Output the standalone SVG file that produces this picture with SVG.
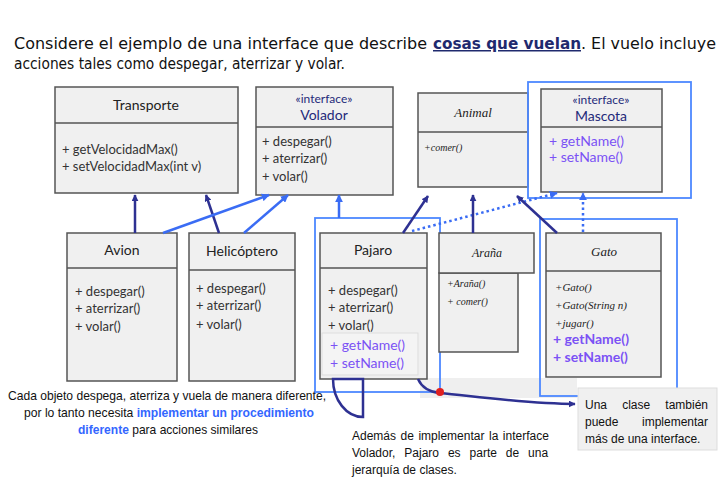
<svg xmlns="http://www.w3.org/2000/svg" width="725" height="480" viewBox="0 0 725 480">
<defs>
<marker id="an" viewBox="0 0 10 10" refX="9" refY="5" markerWidth="7" markerHeight="7" orient="auto-start-reverse" markerUnits="userSpaceOnUse"><path d="M0,0 L10,5 L0,10 z" fill="#2e3192"/></marker>
<marker id="ab" viewBox="0 0 10 10" refX="9" refY="5" markerWidth="8" markerHeight="8" orient="auto-start-reverse" markerUnits="userSpaceOnUse"><path d="M0,0 L10,5 L0,10 z" fill="#3a6cf4"/></marker>
</defs>
<style>
.box{fill:#f0f0f0;stroke:#555;stroke-width:1.5}
.hl{fill:none;stroke:#4d88ff;stroke-width:1.8}
.nm{font-family:Lato,"Open Sans",sans-serif;font-size:14px;fill:#222;text-anchor:middle}
.mt{font-family:Lato,"Open Sans",sans-serif;font-size:13px;fill:#333}
.it{font-family:"Liberation Serif",serif;font-style:italic;fill:#222}
.ifc{font-family:Lato,"Open Sans",sans-serif;fill:#1f2a7a;text-anchor:middle}
.pu{font-family:Lato,"Open Sans",sans-serif;font-size:14px;fill:#7b52f5}
.nv{fill:none;stroke:#2e3192;stroke-width:2.5}
.bl{fill:none;stroke:#3a6cf4;stroke-width:2.5}
.dt{fill:none;stroke:#3a6cf4;stroke-width:2.5;stroke-dasharray:2.5 3}
.tx{font-family:"Liberation Sans",Arial,sans-serif;font-size:13px;fill:#111}
.tj{font-family:"Liberation Sans",Arial,sans-serif;font-size:12px;fill:#111}
.hd{font-family:"DejaVu Sans Condensed","DejaVu Sans",sans-serif;font-size:15px;fill:#111}
</style>
<rect width="725" height="480" fill="#fff"/>

<g id="intro" class="hd">
<text x="14" y="49" textLength="413" lengthAdjust="spacingAndGlyphs">Considere el ejemplo de una interface que describe</text>
<text x="433" y="49" textLength="148" lengthAdjust="spacingAndGlyphs" font-weight="bold" fill="#1f2a6e" text-decoration="underline">cosas que vuelan</text>
<text x="581" y="49" textLength="135" lengthAdjust="spacingAndGlyphs">. El vuelo incluye</text>
<text x="14" y="69" textLength="331" lengthAdjust="spacingAndGlyphs">acciones tales como despegar, aterrizar y volar.</text>
</g>

<rect x="420" y="378" width="157" height="20" fill="#efefef"/>

<g id="Transporte">
<rect class="box" x="55" y="87" width="183" height="106"/>
<line x1="55" y1="123" x2="238" y2="123" stroke="#555" stroke-width="1.5"/>
<text class="nm" x="146" y="110">Transporte</text>
<text class="mt" x="62" y="154">+ getVelocidadMax()</text>
<text class="mt" x="62" y="171">+ setVelocidadMax(int v)</text>
</g>

<g id="Volador">
<rect class="box" x="256" y="87" width="137" height="108"/>
<line x1="256" y1="127" x2="393" y2="127" stroke="#555" stroke-width="1.5"/>
<text class="ifc" x="324" y="103" font-size="12">«interface»</text>
<text class="ifc" x="324" y="120" font-size="14">Volador</text>
<text class="mt" x="262" y="146">+ despegar()</text>
<text class="mt" x="262" y="163">+ aterrizar()</text>
<text class="mt" x="262" y="181">+ volar()</text>
</g>

<g id="Animal">
<rect class="box" x="418" y="93" width="110" height="94"/>
<line x1="418" y1="132" x2="528" y2="132" stroke="#555" stroke-width="1.5"/>
<text class="it" x="473" y="117" font-size="13" text-anchor="middle">Animal</text>
<text class="it" x="424" y="151" font-size="10">+comer()</text>
</g>

<g id="Mascota">
<rect class="box" x="541" y="89" width="121" height="103"/>
<line x1="541" y1="127" x2="662" y2="127" stroke="#555" stroke-width="1.5"/>
<text class="ifc" x="601" y="104" font-size="12">«interface»</text>
<text class="ifc" x="601" y="121" font-size="14">Mascota</text>
<text class="pu" x="549" y="146">+ getName()</text>
<text class="pu" x="549" y="162">+ setName()</text>
<rect class="hl" x="528" y="82" width="163" height="116"/>
</g>

<g id="Avion">
<rect class="box" x="67" y="233" width="110" height="148"/>
<line x1="67" y1="268" x2="177" y2="268" stroke="#555" stroke-width="1.5"/>
<text class="nm" x="122" y="255">Avion</text>
<text class="mt" x="75" y="296">+ despegar()</text>
<text class="mt" x="75" y="313">+ aterrizar()</text>
<text class="mt" x="75" y="331">+ volar()</text>
</g>

<g id="Helicoptero">
<rect class="box" x="189" y="233" width="106" height="148"/>
<line x1="189" y1="270" x2="295" y2="270" stroke="#555" stroke-width="1.5"/>
<text class="nm" x="242" y="256">Helicóptero</text>
<text class="mt" x="196" y="293">+ despegar()</text>
<text class="mt" x="196" y="310">+ aterrizar()</text>
<text class="mt" x="196" y="329">+ volar()</text>
</g>

<g id="Pajaro">
<rect class="box" x="320" y="233" width="107" height="146"/>
<line x1="320" y1="268" x2="427" y2="268" stroke="#555" stroke-width="1.5"/>
<text class="nm" x="373" y="255">Pajaro</text>
<text class="mt" x="328" y="295">+ despegar()</text>
<text class="mt" x="328" y="312">+ aterrizar()</text>
<text class="mt" x="328" y="330">+ volar()</text>
<rect x="322" y="333" width="96" height="42" fill="#f4f4f4" stroke="#ddd" stroke-width="1"/>
<text class="pu" x="330" y="350">+ getName()</text>
<text class="pu" x="330" y="368">+ setName()</text>
<rect class="hl" x="315" y="218" width="125" height="174"/>
</g>

<g id="Arana">
<rect class="box" x="439" y="273" width="79" height="79"/>
<rect class="box" x="439" y="233" width="95" height="40"/>
<text class="it" x="487" y="257" font-size="12" text-anchor="middle">Araña</text>
<text class="it" x="447" y="287" font-size="10">+Araña()</text>
<text class="it" x="447" y="305" font-size="10">+ comer()</text>
</g>

<g id="Gato">
<rect class="box" x="546" y="233" width="115" height="144"/>
<line x1="546" y1="271" x2="661" y2="271" stroke="#555" stroke-width="1.5"/>
<text class="it" x="604" y="256" font-size="13" text-anchor="middle">Gato</text>
<text class="it" x="555" y="291" font-size="11">+Gato()</text>
<text class="it" x="555" y="309" font-size="11">+Gato(String n)</text>
<text class="it" x="555" y="327" font-size="11">+jugar()</text>
<text class="pu" x="553" y="344" font-weight="bold">+ getName()</text>
<text class="pu" x="553" y="362" font-weight="bold">+ setName()</text>
<rect class="hl" x="540" y="219" width="137" height="177"/>
</g>

<g id="connectors">
<line class="nv" x1="135" y1="233" x2="135" y2="195" marker-end="url(#an)"/>
<line class="nv" x1="219" y1="233" x2="206" y2="195" marker-end="url(#an)"/>
<line class="bl" x1="163" y1="233" x2="269" y2="195" marker-end="url(#ab)"/>
<line class="bl" x1="244" y1="233" x2="288" y2="195" marker-end="url(#ab)"/>
<line class="bl" x1="339" y1="218" x2="339" y2="195" marker-end="url(#ab)"/>
<line class="nv" x1="403" y1="233" x2="428" y2="196" marker-end="url(#an)"/>
<line class="dt" x1="412" y1="231" x2="557" y2="193" marker-end="url(#ab)"/>
<line class="nv" x1="473" y1="233" x2="473" y2="195" marker-end="url(#an)"/>
<line class="nv" x1="557" y1="233" x2="517" y2="196" marker-end="url(#an)"/>
<line class="dt" x1="583" y1="232" x2="583" y2="193" marker-end="url(#ab)"/>
<path class="nv" d="M333,379 L363,379 L363,417 A30,38 0 0 1 333,379 Z"/>
<path class="nv" d="M418,379 C422,388 430,392 440,393 C480,397 530,404 575,404" marker-end="url(#an)"/>
<circle cx="440" cy="392" r="4" fill="#e02020"/>
</g>

<g id="notes">
<text class="tx" x="167" y="400" text-anchor="middle" textLength="318" lengthAdjust="spacingAndGlyphs">Cada objeto despega, aterriza y vuela de manera diferente,</text>
<text class="tx" x="169" y="417" text-anchor="middle" textLength="290" lengthAdjust="spacingAndGlyphs">por lo tanto necesita <tspan fill="#3366ff" font-weight="bold">implementar un procedimiento</tspan></text>
<text class="tx" x="168" y="434" text-anchor="middle" textLength="180" lengthAdjust="spacingAndGlyphs"><tspan fill="#3366ff" font-weight="bold">diferente</tspan> para acciones similares</text>
<text class="tj" x="352" y="440" word-spacing="1.2">Además de implementar la interface</text>
<text class="tj" x="352" y="457" word-spacing="5.6">Volador, Pajaro es parte de una</text>
<text class="tj" x="352" y="474">jerarquía de clases.</text>
</g>

<g id="note-box">
<rect x="578" y="388" width="139" height="62" fill="#f0f0f0" stroke="#ddd" stroke-width="1"/>
<text class="tj" x="585" y="409" word-spacing="11.8">Una clase también</text>
<text class="tj" x="585" y="426" word-spacing="20.3">puede implementar</text>
<text class="tj" x="585" y="443">más de una interface.</text>
</g>
</svg>
